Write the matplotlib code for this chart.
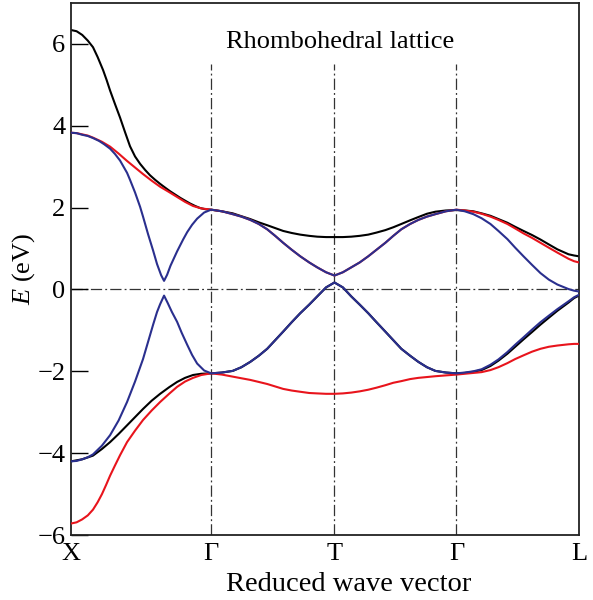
import numpy as np
import matplotlib
matplotlib.use("Agg")
import matplotlib.pyplot as plt

plt.rcParams['font.family'] = ['Liberation Serif', 'DejaVu Serif']
plt.rcParams['mathtext.fontset'] = 'custom'
plt.rcParams['mathtext.rm'] = 'Liberation Serif'
plt.rcParams['mathtext.it'] = 'Liberation Serif:italic'

# high-symmetry points (k in units of the X-Gamma distance)
sym_labels = ["X", "Γ", "T", "Γ", "L"]
sym_k = [0.0, 1.0, 1.88, 2.75, 3.625]

# ---- bands, split by segment: k and E (eV)
# X -> Gamma
xg_black_up_k = [0.0, 0.04, 0.08, 0.12, 0.157, 0.19, 0.229, 0.254, 0.279, 0.314, 0.35, 0.386, 0.421, 0.457,
                 0.493, 0.529, 0.564, 0.6, 0.636, 0.671, 0.707, 0.743, 0.779, 0.814, 0.85, 0.886, 0.921, 0.96, 1.0]
xg_black_up_E = [6.34, 6.31, 6.22, 6.08, 5.92, 5.68, 5.36, 5.12, 4.86, 4.53, 4.20, 3.84, 3.50, 3.25,
                 3.07, 2.92, 2.79, 2.68, 2.58, 2.49, 2.40, 2.32, 2.24, 2.17, 2.10, 2.04, 1.99, 1.96, 1.95]
xg_red_up_k = [0.0, 0.04, 0.08, 0.12, 0.157, 0.22, 0.279, 0.34, 0.4, 0.457, 0.514, 0.575, 0.636, 0.7, 0.757,
               0.814, 0.871, 0.93, 1.0]
xg_red_up_E = [3.83, 3.82, 3.79, 3.76, 3.71, 3.61, 3.49, 3.32, 3.14, 2.98, 2.82, 2.66, 2.51, 2.38, 2.26,
               2.14, 2.04, 1.98, 1.95]
xg_blue_up_k = [0.0, 0.04, 0.08, 0.12, 0.157, 0.2, 0.236, 0.279, 0.314, 0.35, 0.4, 0.421, 0.457, 0.493, 0.514,
                0.55, 0.586, 0.614, 0.643, 0.664, 0.686, 0.71, 0.757, 0.8, 0.829, 0.864, 0.9, 0.95, 1.0]
xg_blue_up_E = [3.83, 3.82, 3.78, 3.75, 3.70, 3.63, 3.55, 3.44, 3.31, 3.15, 2.85, 2.68, 2.37, 2.02, 1.78,
                1.35, 0.95, 0.62, 0.35, 0.21, 0.36, 0.58, 0.93, 1.22, 1.40, 1.58, 1.73, 1.88, 1.95]
xg_blue_dn_k = [0.0, 0.04, 0.08, 0.12, 0.157, 0.22, 0.279, 0.34, 0.4, 0.457, 0.514, 0.55, 0.586, 0.614, 0.636,
                0.664, 0.69, 0.72, 0.757, 0.79, 0.829, 0.864, 0.9, 0.95, 1.0]
xg_blue_dn_E = [-4.20, -4.19, -4.15, -4.10, -4.03, -3.82, -3.56, -3.20, -2.75, -2.25, -1.70, -1.28, -0.86, -0.55,
                -0.36, -0.15, -0.33, -0.55, -0.79, -1.06, -1.35, -1.60, -1.81, -1.98, -2.05]
xg_black_dn_k = [0.0, 0.08, 0.157, 0.22, 0.279, 0.34, 0.4, 0.457, 0.514, 0.575, 0.636, 0.7, 0.757, 0.814,
                 0.871, 0.93, 1.0]
xg_black_dn_E = [-4.20, -4.15, -4.06, -3.90, -3.73, -3.53, -3.32, -3.12, -2.92, -2.72, -2.55, -2.39, -2.26, -2.16,
                 -2.09, -2.06, -2.05]
xg_red_dn_k = [0.0, 0.04, 0.079, 0.12, 0.157, 0.19, 0.221, 0.25, 0.279, 0.314, 0.35, 0.4, 0.457, 0.514, 0.575,
               0.636, 0.7, 0.757, 0.814, 0.871, 0.93, 1.0]
xg_red_dn_E = [-5.72, -5.69, -5.62, -5.52, -5.38, -5.20, -5.00, -4.78, -4.55, -4.30, -4.05, -3.73, -3.45, -3.19,
               -2.96, -2.75, -2.55, -2.38, -2.25, -2.16, -2.09, -2.05]

# Gamma -> T -> Gamma
gg_k = [1.077, 1.154, 1.216, 1.279, 1.34, 1.4, 1.457, 1.514, 1.575, 1.636, 1.7, 1.757, 1.82, 1.88,
        1.94, 2.0, 2.06, 2.121, 2.18, 2.243, 2.3, 2.357, 2.42, 2.479, 2.54, 2.6, 2.675, 2.75]
gg_black_up_E = [1.91, 1.86, 1.79, 1.72, 1.64, 1.57, 1.50, 1.43, 1.38, 1.34, 1.31, 1.29, 1.28, 1.28,
                 1.28, 1.29, 1.31, 1.34, 1.39, 1.45, 1.52, 1.60, 1.69, 1.77, 1.85, 1.90, 1.93, 1.94]
gg_blue_up_E = [1.91, 1.84, 1.78, 1.70, 1.60, 1.47, 1.31, 1.14, 0.97, 0.81, 0.66, 0.54, 0.42, 0.34,
                0.42, 0.54, 0.66, 0.81, 0.97, 1.14, 1.31, 1.47, 1.60, 1.70, 1.78, 1.84, 1.91, 1.95]
gg_blue_dn_E = [-2.03, -1.99, -1.90, -1.77, -1.62, -1.45, -1.24, -1.03, -0.80, -0.58, -0.37, -0.17, 0.05, 0.17,
                0.05, -0.17, -0.37, -0.58, -0.80, -1.03, -1.24, -1.45, -1.62, -1.77, -1.90, -1.99, -2.03, -2.05]
gg_red_dn_E = [-2.08, -2.13, -2.17, -2.21, -2.26, -2.31, -2.37, -2.43, -2.47, -2.50, -2.53, -2.54, -2.55, -2.55,
               -2.54, -2.52, -2.49, -2.45, -2.40, -2.34, -2.28, -2.24, -2.19, -2.16, -2.14, -2.12, -2.10, -2.08]

# Gamma -> L
gl_k = [2.81, 2.871, 2.93, 2.993, 3.05, 3.114, 3.17, 3.229, 3.29, 3.35, 3.41, 3.471, 3.55, 3.59, 3.625]
gl_black_up_E = [1.93, 1.91, 1.86, 1.80, 1.72, 1.63, 1.53, 1.43, 1.33, 1.22, 1.10, 0.98, 0.86, 0.83, 0.81]
gl_red_up_E = [1.93, 1.90, 1.85, 1.78, 1.70, 1.60, 1.49, 1.37, 1.26, 1.14, 1.02, 0.90, 0.75, 0.69, 0.66]
gl_blue_up_E = [1.91, 1.84, 1.74, 1.60, 1.43, 1.23, 1.02, 0.81, 0.60, 0.40, 0.24, 0.12, 0.01, -0.03, -0.05]
gl_blue_dn_E = [-2.03, -2.00, -1.95, -1.84, -1.71, -1.53, -1.35, -1.17, -0.98, -0.80, -0.64, -0.48, -0.29, -0.19, -0.13]
gl_black_dn_E = [-2.04, -2.01, -1.97, -1.87, -1.74, -1.57, -1.40, -1.22, -1.04, -0.86, -0.69, -0.52, -0.32, -0.21, -0.15]
gl_red_dn_E = [-2.06, -2.04, -2.02, -1.97, -1.90, -1.80, -1.70, -1.61, -1.52, -1.45, -1.40, -1.37, -1.34, -1.33, -1.33]


def band(k0, e0, e1, e2):
    return k0 + gg_k + gl_k, e0 + e1 + e2


bands = [
    (band(xg_black_up_k, xg_black_up_E, gg_black_up_E, gl_black_up_E), "black", 2),
    (band(xg_black_dn_k, xg_black_dn_E, gg_blue_dn_E, gl_black_dn_E), "black", 2),
    (band(xg_red_up_k, xg_red_up_E, gg_blue_up_E, gl_red_up_E), "#e8141c", 3),
    (band(xg_red_dn_k, xg_red_dn_E, gg_red_dn_E, gl_red_dn_E), "#e8141c", 3),
    (band(xg_blue_up_k, xg_blue_up_E, gg_blue_up_E, gl_blue_up_E), "#2a2f8e", 4),
    (band(xg_blue_dn_k, xg_blue_dn_E, gg_blue_dn_E, gl_blue_dn_E), "#2a2f8e", 4),
]

fig = plt.figure(figsize=(5.93, 6.0), dpi=100)
ax = fig.add_axes([71 / 593, 1 - 535 / 600, 508 / 593, 532 / 600])

dashdot = (0, (9, 2.5, 1.5, 2.5))
for k in sym_k[1:-1]:
    ax.plot([k, k], [-6, 5.5], color="#333333", lw=0.9, ls=dashdot, zorder=1)
ax.axhline(0.0, color="#333333", lw=0.9, ls=dashdot, zorder=1)

for (ks, es), col, z in bands:
    ax.plot(ks, es, color=col, lw=1.5, zorder=z)

ax.set_xlim(sym_k[0], sym_k[-1])
ax.set_ylim(-6, 7)
ax.set_xticks(sym_k)
ax.set_xticklabels(sym_labels)
ax.set_yticks([-6, -4, -2, 0, 2, 4, 6])
ax.tick_params(axis="x", length=0, pad=6, labelsize=19)
ax.tick_params(axis="y", direction="in", length=12, width=1, pad=4, labelsize=19)
for s in ax.spines.values():
    s.set_linewidth(1.3)
    s.set_color("#222222")

ax.set_xlabel("Reduced wave vector", fontsize=20.5, labelpad=0)
ax.xaxis.set_label_coords((349 - 71) / 508, -0.07)
ax.set_ylabel("$E$ (eV)", fontsize=19, labelpad=0)
ax.text(0.53, 0.927, "Rhombohedral lattice", transform=ax.transAxes,
        ha="center", va="center", fontsize=19)

fig.savefig("out.png", dpi=100)
